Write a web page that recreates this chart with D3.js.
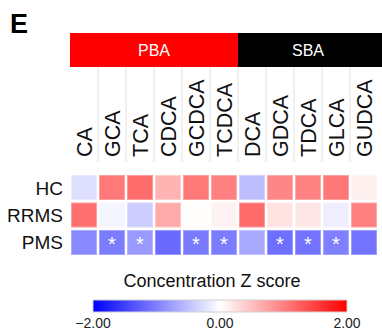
<!DOCTYPE html>
<html><head><meta charset="utf-8">
<script src="https://cdn.jsdelivr.net/npm/d3@7"></script>
<style>body{margin:0;background:#fff}svg{display:block}text{font-family:"Liberation Sans",Arial,sans-serif}</style>
</head><body>
<svg id="c" width="382" height="335"></svg>
<script>
const bileAcids = ["CA","GCA","TCA","CDCA","GCDCA","TCDCA","DCA","GDCA","TDCA","GLCA","GUDCA"];
const groups = ["HC","RRMS","PMS"];
const classes = [{name:"PBA", first:"CA", last:"TCDCA"},{name:"SBA", first:"DCA", last:"GUDCA"}];
const hcValues   = [-0.25, 1.05, 1.15, 0.6, 1.05, 1.0, -0.5, 0.95, 0.97, 1.07, 0.12];
const rrmsValues = [1.12, -0.08, -0.4, 0.67, 0.02, 0.1, 1.17, 0.23, 0.2, -0.13, 1.0];
const pmsValues  = [-0.93, -1.03, -0.8, -1.17, -1.04, -1.03, -0.68, -1.13, -1.1, -1.0, -1.1];
const pmsSignificant = ["GCA","TCA","GCDCA","TCDCA","GDCA","TDCA","GLCA"];
const legendTicks = [-2, 0, 2];

const svg = d3.select("#c");
const x = d3.scaleBand().domain(bileAcids).range([71, 377]).paddingInner(2/28);
const y = d3.scaleBand().domain(groups).range([175, 255]).paddingInner(0.09);
const color = d3.scaleLinear().domain([-2,0,2]).range(["#0000ff","#ffffff","#ff0000"]).clamp(true);
const step = x.step();

// panel letter
svg.append("text").attr("x",10).attr("y",33).attr("font-size",27).attr("font-weight","bold").text("E");

// class header
const headColors = {PBA:"#ff0000", SBA:"#000000"};
classes.forEach((c,i)=>{
  const x0 = i===0 ? x(c.first)-1 : x(c.first)-(step-x.bandwidth())/2;
  const x1 = i===classes.length-1 ? 382 : x(c.last)+x.bandwidth()+(step-x.bandwidth())/2;
  svg.append("rect").attr("x",x0).attr("y",33).attr("width",x1-x0).attr("height",34).attr("fill",headColors[c.name]);
  svg.append("text").attr("x",(x(c.first)+x(c.last)+x.bandwidth())/2).attr("y",55.5)
    .attr("text-anchor","middle").attr("font-size",16).attr("fill","#fff").text(c.name);
});

// separator lines
bileAcids.slice(1).forEach(b=>{
  const lx = x(b)-(step-x.bandwidth())/2;
  svg.append("line").attr("x1",lx).attr("x2",lx).attr("y1",67).attr("y2",162).attr("stroke","#e2e2e2").attr("stroke-width",1);
});

// column labels
const colFs = 21.5;
bileAcids.forEach(b=>{
  const cx = x(b)+x.bandwidth()/2 + 0.36*colFs;
  svg.append("text").attr("transform",`translate(${cx},157) rotate(-90)`)
    .attr("font-size",colFs).attr("fill","#111").text(b);
});

// row labels
groups.forEach(g=>{
  svg.append("text").attr("x",63).attr("y",y(g)+y.bandwidth()/2+7).attr("text-anchor","end")
    .attr("font-size",19).attr("fill","#111").text(g);
});

// cells
const rows = {HC:hcValues, RRMS:rrmsValues, PMS:pmsValues};
groups.forEach(g=>{
  rows[g].forEach((v,i)=>{
    const b = bileAcids[i];
    const f = color(v);
    svg.append("rect").attr("x",x(b)+0.5).attr("y",y(g)+0.5).attr("width",x.bandwidth()-1).attr("height",y.bandwidth()-1)
      .attr("fill",f).attr("stroke",d3.interpolateRgb(f,"#fff")(0.3)).attr("stroke-width",1);
  });
});
pmsSignificant.forEach(b=>{
  svg.append("text").attr("x",x(b)+x.bandwidth()/2).attr("y",y("PMS")+y.bandwidth()/2+9)
    .attr("text-anchor","middle").attr("font-size",20).attr("fill","#fff").text("*");
});

// legend
svg.append("text").attr("x",212).attr("y",287).attr("text-anchor","middle").attr("font-size",18).attr("fill","#111").text("Concentration Z score");
const lx = d3.scaleLinear().domain([-2,2]).range([93,347]);
const defs = svg.append("defs");
const grad = defs.append("linearGradient").attr("id","g");
[-2,-1,0,1,2].forEach(v=>grad.append("stop").attr("offset",(v+2)/4).attr("stop-color",color(v)));
svg.append("rect").attr("x",lx(-2)).attr("y",300).attr("width",lx(2)-lx(-2)).attr("height",12)
  .attr("fill","url(#g)").attr("stroke","#d0d0d0").attr("stroke-width",1);
legendTicks.forEach(t=>{
  svg.append("text").attr("x",lx(t)).attr("y",328).attr("text-anchor","middle").attr("font-size",14).attr("fill","#222").text(d3.format(".2f")(t));
});
</script>
</body></html>
